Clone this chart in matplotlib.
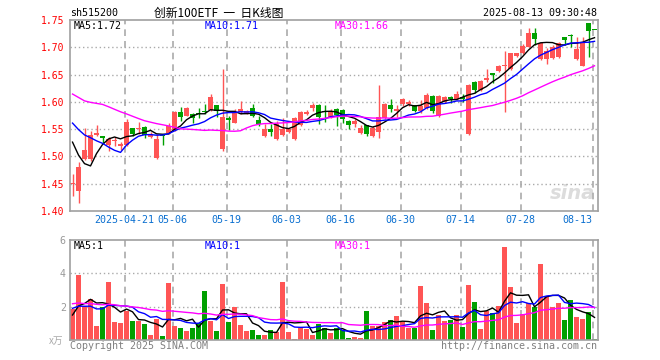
import numpy as np
import pandas as pd
import matplotlib
matplotlib.use('Agg')
import matplotlib.pyplot as plt

# daily K data, 2025-04-08 .. 2025-08-13
opens = [1.449, 1.437, 1.495, 1.495, 1.539, 1.537, 1.521, 1.528, 1.520, 1.521,
         1.552, 1.550, 1.554, 1.536, 1.497, 1.539, 1.543, 1.549, 1.581, 1.575,
         1.577, 1.579, 1.584, 1.585, 1.594, 1.514, 1.570, 1.562, 1.581, 1.580,
         1.588, 1.567, 1.538, 1.551, 1.532, 1.539, 1.545, 1.532, 1.557, 1.578,
         1.588, 1.594, 1.584, 1.573, 1.587, 1.585, 1.565, 1.559, 1.543, 1.557,
         1.537, 1.545, 1.570, 1.594, 1.583, 1.596, 1.596, 1.594, 1.584, 1.588,
         1.611, 1.575, 1.600, 1.608, 1.605, 1.608, 1.541, 1.636, 1.621, 1.640,
         1.652, 1.657, 1.665, 1.660, 1.684, 1.689, 1.701, 1.727, 1.678, 1.678,
         1.681, 1.682, 1.718, 1.723, 1.678, 1.666, 1.744, 1.733]
highs = [1.468, 1.490, 1.553, 1.547, 1.557, 1.538, 1.535, 1.536, 1.526, 1.569,
         1.553, 1.564, 1.556, 1.544, 1.542, 1.540, 1.561, 1.584, 1.591, 1.590,
         1.580, 1.588, 1.596, 1.615, 1.595, 1.660, 1.574, 1.587, 1.601, 1.585,
         1.596, 1.574, 1.559, 1.559, 1.565, 1.570, 1.553, 1.572, 1.584, 1.585,
         1.597, 1.596, 1.594, 1.587, 1.588, 1.586, 1.567, 1.568, 1.557, 1.558,
         1.555, 1.631, 1.598, 1.605, 1.594, 1.607, 1.604, 1.595, 1.604, 1.616,
         1.612, 1.612, 1.610, 1.610, 1.619, 1.615, 1.632, 1.638, 1.640, 1.660,
         1.653, 1.667, 1.694, 1.690, 1.690, 1.706, 1.735, 1.735, 1.710, 1.699,
         1.704, 1.710, 1.719, 1.724, 1.718, 1.718, 1.745, 1.733]
lows = [1.427, 1.415, 1.494, 1.492, 1.537, 1.523, 1.510, 1.519, 1.512, 1.520,
        1.537, 1.541, 1.533, 1.533, 1.496, 1.521, 1.541, 1.547, 1.565, 1.574,
        1.562, 1.570, 1.577, 1.584, 1.573, 1.510, 1.549, 1.561, 1.578, 1.578,
        1.572, 1.556, 1.536, 1.538, 1.530, 1.537, 1.543, 1.530, 1.555, 1.576,
        1.584, 1.559, 1.564, 1.571, 1.556, 1.562, 1.550, 1.554, 1.541, 1.538,
        1.535, 1.534, 1.568, 1.582, 1.573, 1.593, 1.593, 1.582, 1.580, 1.586,
        1.580, 1.573, 1.598, 1.597, 1.603, 1.599, 1.539, 1.617, 1.619, 1.637,
        1.634, 1.655, 1.581, 1.658, 1.682, 1.688, 1.700, 1.705, 1.676, 1.670,
        1.679, 1.680, 1.704, 1.700, 1.676, 1.665, 1.683, 1.733]
closes = [1.451, 1.481, 1.512, 1.539, 1.543, 1.534, 1.532, 1.530, 1.522, 1.564,
          1.541, 1.553, 1.540, 1.541, 1.532, 1.537, 1.556, 1.582, 1.572, 1.589,
          1.571, 1.577, 1.582, 1.609, 1.583, 1.572, 1.567, 1.582, 1.587, 1.584,
          1.575, 1.559, 1.550, 1.544, 1.560, 1.551, 1.550, 1.570, 1.582, 1.582,
          1.594, 1.573, 1.581, 1.584, 1.576, 1.568, 1.557, 1.565, 1.553, 1.541,
          1.553, 1.572, 1.596, 1.586, 1.587, 1.605, 1.600, 1.584, 1.593, 1.613,
          1.584, 1.610, 1.608, 1.605, 1.614, 1.606, 1.631, 1.622, 1.639, 1.643,
          1.650, 1.666, 1.667, 1.689, 1.689, 1.703, 1.727, 1.715, 1.707, 1.693,
          1.701, 1.707, 1.713, 1.721, 1.696, 1.709, 1.730, 1.732]
# volume in 万 (x10k)
volumes = [1.86, 3.90, 2.04, 2.46, 0.84, 1.96, 3.48, 1.08, 1.02, 1.74,
           1.14, 1.14, 0.96, 0.30, 1.26, 0.24, 3.42, 0.84, 0.72, 0.54,
           0.72, 1.02, 2.94, 1.14, 0.54, 3.36, 1.08, 1.98, 0.90, 0.54,
           0.60, 0.30, 0.30, 0.60, 0.48, 3.48, 0.48, 0.08, 0.72, 0.66,
           0.30, 0.96, 0.72, 0.40, 0.74, 0.60, 0.12, 0.18, 0.12, 1.74,
           0.84, 0.84, 1.08, 1.20, 1.44, 1.08, 0.74, 0.74, 3.24, 2.22,
           0.60, 1.50, 1.14, 1.20, 1.50, 0.78, 3.30, 2.28, 0.66, 1.74,
           1.62, 2.04, 5.58, 3.18, 1.02, 1.56, 2.22, 1.98, 4.56, 2.64,
           1.98, 2.22, 1.20, 2.40, 1.38, 1.26, 1.68, 0.06]

# 29 days before the window (estimated from where the MA lines start)
hist_close = [1.67, 1.70, 1.62, 1.60, 1.59, 1.66, 1.67, 1.66, 1.68, 1.67,
              1.68, 1.66, 1.62, 1.61, 1.60, 1.62, 1.66, 1.66, 1.60, 1.59,
              1.60, 1.61, 1.59, 1.60, 1.58, 1.60, 1.59, 1.56, 1.43]
hist_volume = [2.6, 3.1, 2.4, 2.2, 2.8, 2.5, 2.0, 2.9, 2.3, 2.6,
               2.2, 2.7, 2.4, 2.1, 2.5, 2.3, 1.8, 1.7, 1.6, 1.6,
               2.6, 2.1, 2.4, 2.5, 1.9, 1.2, 1.3, 1.2, 1.94]

tick_idx = [9, 17, 26, 36, 45, 55, 65, 75, 87]
tick_labels = ['2025-04-21', '05-06', '05-19', '06-03', '06-16',
               '06-30', '07-14', '07-28', '08-13']
price_ticks = [1.40, 1.45, 1.50, 1.55, 1.60, 1.65, 1.70, 1.75]
vol_ticks = [2, 4, 6]
ma_periods = [5, 10, 30]
ma_colors = ['black', '#0000ff', '#ff00ff']
price_ma_text = ['MA5:1.72', 'MA10:1.71', 'MA30:1.66']
vol_ma_text = ['MA5:1', 'MA10:1', 'MA30:1']

RED = '#ff5555'
GREEN = '#00a000'
FRAME = '#a0a0a0'
GRID = '#aaaaaa'
MONO = 'DejaVu Sans Mono'

W, H = 660, 360
fig = plt.figure(figsize=(W / 100, H / 100), dpi=100)


def px(x, y):
    return x / W, 1 - y / H


n = len(closes)
x = np.arange(n)
o, hi, lo, c = map(np.array, (opens, highs, lows, closes))
colors = np.where(c >= o, RED, GREEN)

close_all = pd.Series(hist_close + closes)
vol_all = pd.Series(hist_volume + volumes)
k = len(hist_close)

# price panel
ax = fig.add_axes([70 / W, 1 - 211 / H, 528 / W, 191 / H])
ax.vlines(x, lo, hi, colors=colors, lw=1, zorder=2)
ax.bar(x, np.maximum(np.abs(c - o), 0.0017), bottom=np.minimum(o, c),
       width=0.8, color=colors, lw=0, zorder=2)
for p, col in zip(ma_periods, ma_colors):
    ax.plot(x, close_all.rolling(p).mean().iloc[k:], color=col, lw=1, zorder=3)
ax.set_xlim(-0.42, n - 0.42)
ax.set_ylim(1.40, 1.75)
ax.set_yticks(price_ticks)
ax.set_yticklabels([f'{v:.2f}' for v in price_ticks], color='red',
                   fontsize=7, family=MONO)
ax.set_xticks(np.array(tick_idx) - 0.3)
ax.set_xticklabels(tick_labels, color='#0a6fd0', fontsize=7.2, family=MONO)
ax.get_xticklabels()[-1].set_ha('right')
ax.tick_params(length=0, pad=3)
ax.tick_params(axis='y', pad=4)
for yv in price_ticks[1:-1]:
    ax.axhline(yv, color=GRID, lw=1, ls=(0, (1, 2)), zorder=1)
ax.text(0.995, 0.04, 'sina', transform=ax.transAxes, ha='right', va='bottom',
        fontsize=14, fontstyle='italic', fontweight='bold', color='#dcdcdc',
        zorder=0)

# volume panel
ax2 = fig.add_axes([70 / W, 1 - 340 / H, 528 / W, 100 / H])
ax2.bar(x, volumes, width=0.8, color=colors, lw=0, zorder=2)
for p, col in zip(ma_periods, ma_colors):
    ax2.plot(x, vol_all.rolling(p).mean().iloc[k:], color=col, lw=1, zorder=3)
ax2.set_xlim(-0.42, n - 0.42)
ax2.set_ylim(0, 6)
ax2.set_yticks(vol_ticks)
ax2.set_yticklabels([str(v) for v in vol_ticks], color='#999999',
                    fontsize=7.2, family=MONO)
ax2.set_xticks([])
ax2.tick_params(length=0, pad=3)
for yv in vol_ticks[:-1]:
    ax2.axhline(yv, color=GRID, lw=1, ls=(0, (1, 2)), zorder=1)

for a in (ax, ax2):
    for t in tick_idx:
        a.axvline(t - 0.3, color=GRID, lw=1.2, ls=(0, (4, 3)), zorder=1)
    for s in a.spines.values():
        s.set_color(FRAME)
        s.set_linewidth(1.2)

# texts
fig.text(*px(70, 13), 'sh515200', ha='left', va='center', fontsize=7.2, family=MONO)
fig.text(*px(219, 13), '创新100ETF  一  日K线图', ha='center', va='center',
         fontsize=8.5, family=['Noto Sans CJK SC', 'DejaVu Sans'])
fig.text(*px(597, 13), '2025-08-13 09:30:48', ha='right', va='center',
         fontsize=7.2, family=MONO)
for xp, txt, col in zip([74, 205, 335], price_ma_text, ma_colors):
    fig.text(*px(xp, 26), txt, ha='left', va='center', fontsize=7.2,
             family=MONO, color=col)
for xp, txt, col in zip([74, 205, 335], vol_ma_text, ma_colors):
    fig.text(*px(xp, 246), txt, ha='left', va='center', fontsize=7.2,
             family=MONO, color=col)
fig.text(*px(63, 341), 'x万', ha='right', va='center', fontsize=7,
         color='#aaaaaa', family=['Noto Sans CJK SC', 'DejaVu Sans'])
fig.text(*px(70, 346), 'Copyright 2025 SINA.COM', ha='left', va='center',
         fontsize=7.2, family=MONO, color='#808080')
fig.text(*px(597, 346), 'http://finance.sina.com.cn', ha='right', va='center',
         fontsize=7.2, family=MONO, color='#808080')

fig.savefig('out.png', dpi=100)
plt.close(fig)
